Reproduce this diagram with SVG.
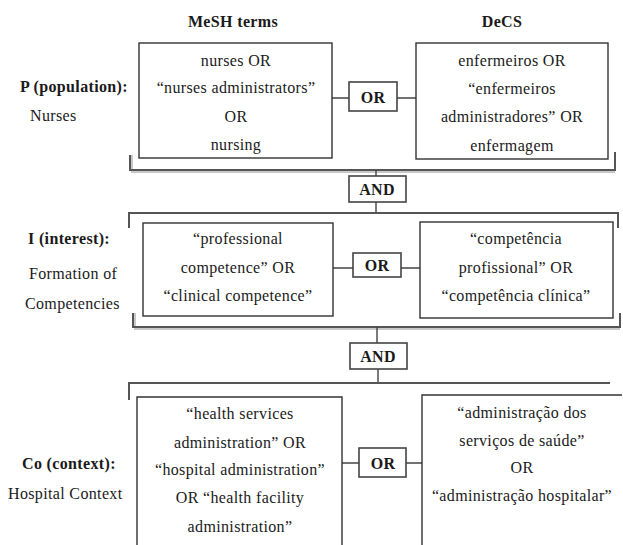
<svg xmlns="http://www.w3.org/2000/svg" width="623" height="545" viewBox="0 0 623 545">
<style>
text{font-family:"Liberation Serif","Times New Roman",serif;font-size:16px;letter-spacing:0.35px;fill:#1a1a1a;text-anchor:middle}
.b{font-weight:bold}
.l{text-anchor:start}
.box{fill:#fff;stroke:#333;stroke-width:1.4}
.op{fill:#fff;stroke:#444;stroke-width:1.6}
.br{fill:none;stroke:#555;stroke-width:2}
.brs{fill:none;stroke:#c8c8c8;stroke-width:2}
.ln{fill:none;stroke:#444;stroke-width:1.4}
</style>
<rect width="623" height="545" fill="#fff"/>
<text class="b" x="233" y="27">MeSH terms</text>
<text class="b" x="502" y="27">DeCS</text>

<g id="connectors">
<path class="brs" d="M132 155 V172 H615"/>
<path class="br" d="M130 155 V170 H615 V152"/>
<path class="ln" d="M332 98 H349 M397 98 H416"/>
<path class="ln" d="M376 170 V176 M376 202 V213"/>
<path class="br" d="M129 228 V213 H618 V228"/>
<path class="brs" d="M135 313 V329 H620"/>
<path class="br" d="M133 313 V327 H620 V313"/>
<path class="ln" d="M333 268 H353 M401 268 H420"/>
<path class="ln" d="M377 327 V343 M378 369 V383"/>
<path class="br" d="M129 400 V383 H610"/>
<path class="ln" d="M342 463 H359 M406 463 H422"/>
</g>

<g id="row-p">
<text class="b l" x="20" y="92">P (population):</text>
<text class="l" x="30" y="121">Nurses</text>
</g>
<g id="mesh-p">
<rect class="box" x="139" y="43" width="193" height="115"/>
<text x="236" y="66">nurses OR</text>
<text x="236" y="93">“nurses administrators”</text>
<text x="236" y="122">OR</text>
<text x="236" y="150">nursing</text>
</g>
<g id="or-p">
<rect class="op" x="349" y="82" width="48" height="29"/>
<text class="b" x="373" y="103">OR</text>
</g>
<g id="decs-p">
<rect class="box" x="416" y="43" width="192" height="116"/>
<text x="512" y="66">enfermeiros OR</text>
<text x="512" y="94">“enfermeiros</text>
<text x="512" y="122">administradores” OR</text>
<text x="512" y="151">enfermagem</text>
</g>
<g id="and-1">
<rect class="op" x="349" y="176" width="57" height="26"/>
<text class="b" x="377" y="195">AND</text>
</g>

<g id="row-i">
<text class="b l" x="28" y="244">I (interest):</text>
<text class="l" x="29" y="279">Formation of</text>
<text class="l" x="25" y="309">Competencies</text>
</g>
<g id="mesh-i">
<rect class="box" x="143" y="223" width="190" height="93"/>
<text x="238" y="244">“professional</text>
<text x="238" y="273">competence” OR</text>
<text x="238" y="301">“clinical competence”</text>
</g>
<g id="or-i">
<rect class="op" x="353" y="253" width="48" height="24"/>
<text class="b" x="377" y="271">OR</text>
</g>
<g id="decs-i">
<rect class="box" x="420" y="222" width="193" height="96"/>
<text x="516" y="244">“competência</text>
<text x="516" y="273">profissional” OR</text>
<text x="516" y="301">“competência clínica”</text>
</g>
<g id="and-2">
<rect class="op" x="350" y="343" width="57" height="26"/>
<text class="b" x="378" y="362">AND</text>
</g>

<g id="row-co">
<text class="b l" x="22" y="469">Co (context):</text>
<text class="l" x="8" y="499">Hospital Context</text>
</g>
<g id="mesh-co">
<path class="box" d="M137 546 V397 H342 V546"/>
<text x="240" y="419">“health services</text>
<text x="240" y="448">administration” OR</text>
<text x="240" y="475">“hospital administration”</text>
<text x="240" y="503">OR “health facility</text>
<text x="240" y="532">administration”</text>
</g>
<g id="or-co">
<rect class="op" x="359" y="448" width="47" height="29"/>
<text class="b" x="383" y="469">OR</text>
</g>
<g id="decs-co">
<path class="box" d="M422 546 V395 H622"/>
<text x="522" y="418">“administração dos</text>
<text x="522" y="446">serviços de saúde”</text>
<text x="522" y="473">OR</text>
<text x="522" y="501">“administração hospitalar”</text>
</g>
</svg>
